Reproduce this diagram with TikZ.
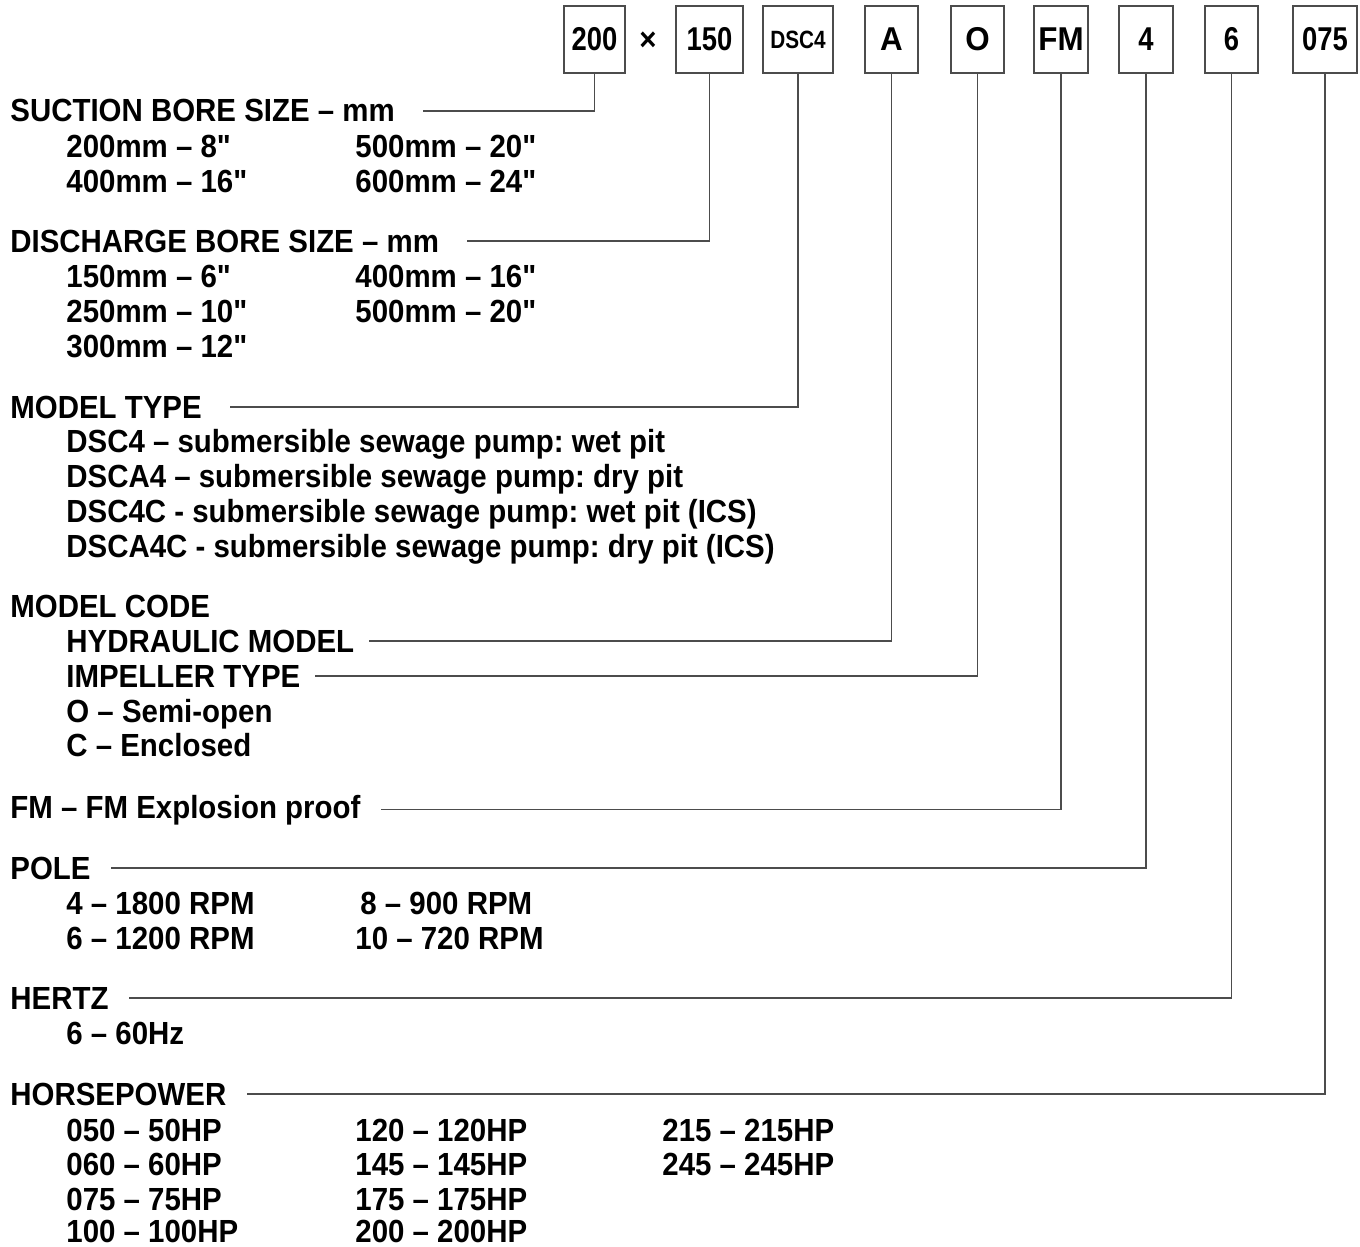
\documentclass[tikz,border=0pt]{standalone}
\usepackage{fontspec}
\newfontfamily\lblfont[FakeStretch=0.92]{Liberation Sans}
\newfontfamily\digfont[FakeStretch=0.83]{Liberation Sans}
\newfontfamily\letfont[FakeStretch=0.95]{Liberation Sans}
\frenchspacing
\begin{document}
\begin{tikzpicture}[x=0.5pt,y=-0.5pt,
  lbl/.style={anchor=base west, inner sep=0pt, font=\lblfont\bfseries\fontsize{16}{19}\selectfont},
  codebox/.style={draw=black!70, line width=0.7pt, minimum height=33.5pt, inner sep=0pt, anchor=center},
  digbox/.style={codebox, font=\digfont\bfseries\fontsize{16.5}{19}\selectfont},
  letbox/.style={codebox, font=\letfont\bfseries\fontsize{16.5}{19}\selectfont},
  smallbox/.style={codebox, font=\digfont\bfseries\fontsize{12.5}{14}\selectfont},
  conn/.style={draw=black!70, line width=0.7pt}]
\useasboundingbox (0,0) rectangle (1360,1247);
% code boxes
\node[digbox, minimum width=30.5pt] (b200) at (594.5,39.5) {200};
\node[font=\lblfont\bfseries\fontsize{16}{19}\selectfont, inner sep=0pt] (times) at (648,41) {×};
\node[digbox, minimum width=33.5pt] (b150) at (709.5,39.5) {150};
\node[smallbox, minimum width=35pt] (bdsc) at (798,39.5) {DSC4};
\node[letbox, minimum width=26.5pt] (bA) at (891.5,39.5) {A};
\node[letbox, minimum width=26.5pt] (bO) at (977.5,39.5) {O};
\node[letbox, minimum width=27pt] (bFM) at (1061,39.5) {FM};
\node[digbox, minimum width=27pt] (b4) at (1146,39.5) {4};
\node[digbox, minimum width=26.5pt] (b6) at (1231.5,39.5) {6};
\node[digbox, minimum width=32pt] (b075) at (1325,39.5) {075};
% suction
\node[lbl] (suction) at (10,122) {SUCTION BORE SIZE – mm};
\node[lbl] (s1) at (66,157) {200mm – 8"};
\node[lbl] (s2) at (355,157) {500mm – 20"};
\node[lbl] (s3) at (66,192) {400mm – 16"};
\node[lbl] (s4) at (355,192) {600mm – 24"};
% discharge
\node[lbl] (discharge) at (10,252) {DISCHARGE BORE SIZE – mm};
\node[lbl] (d1) at (66,287) {150mm – 6"};
\node[lbl] (d2) at (355,287) {400mm – 16"};
\node[lbl] (d3) at (66,322) {250mm – 10"};
\node[lbl] (d4) at (355,322) {500mm – 20"};
\node[lbl] (d5) at (66,357) {300mm – 12"};
% model type
\node[lbl] (mtype) at (10,418) {MODEL TYPE};
\node[lbl] (t1) at (66,452) {DSC4 – submersible sewage pump: wet pit};
\node[lbl] (t2) at (66,487) {DSCA4 – submersible sewage pump: dry pit};
\node[lbl] (t3) at (66,522) {DSC4C - submersible sewage pump: wet pit (ICS)};
\node[lbl] (t4) at (66,557) {DSCA4C - submersible sewage pump: dry pit (ICS)};
% model code
\node[lbl] (mcode) at (10,617) {MODEL CODE};
\node[lbl] (hyd) at (66,652) {HYDRAULIC MODEL};
\node[lbl] (imp) at (66,687) {IMPELLER TYPE};
\node[lbl] (c1) at (66,722) {O – Semi-open};
\node[lbl] (c2) at (66,756) {C – Enclosed};
% FM
\node[lbl] (fm) at (10,818) {FM – FM Explosion proof};
% pole
\node[lbl] (pole) at (10,879) {POLE};
\node[lbl] (p1) at (66,914) {4 – 1800 RPM};
\node[lbl] (p2) at (360,914) {8 – 900 RPM};
\node[lbl] (p3) at (66,949) {6 – 1200 RPM};
\node[lbl] (p4) at (355,949) {10 – 720 RPM};
% hertz
\node[lbl] (hertz) at (10,1009) {HERTZ};
\node[lbl] (h1) at (66,1044) {6 – 60Hz};
% horsepower
\node[lbl] (hp) at (10,1105) {HORSEPOWER};
\node[lbl] (hp1) at (66,1141) {050 – 50HP};
\node[lbl] (hp2) at (66,1175) {060 – 60HP};
\node[lbl] (hp3) at (66,1210) {075 – 75HP};
\node[lbl] (hp4) at (66,1242) {100 – 100HP};
\node[lbl] (hp5) at (355,1141) {120 – 120HP};
\node[lbl] (hp6) at (355,1175) {145 – 145HP};
\node[lbl] (hp7) at (355,1210) {175 – 175HP};
\node[lbl] (hp8) at (355,1242) {200 – 200HP};
\node[lbl] (hp9) at (662,1141) {215 – 215HP};
\node[lbl] (hp10) at (662,1175) {245 – 245HP};
% connectors
\draw[conn] (b200.south) |- ([xshift=14pt]suction.east);
\draw[conn] (b150.south) |- ([xshift=14pt]discharge.east);
\draw[conn] (bdsc.south) |- ([xshift=14pt]mtype.east);
\draw[conn] (bA.south) |- ([xshift=7pt]hyd.east);
\draw[conn] (bO.south) |- ([xshift=7pt]imp.east);
\draw[conn] (bFM.south) |- ([xshift=10pt]fm.east);
\draw[conn] (b4.south) |- ([xshift=10pt]pole.east);
\draw[conn] (b6.south) |- ([xshift=10pt]hertz.east);
\draw[conn] (b075.south) |- ([xshift=10pt]hp.east);
\end{tikzpicture}
\end{document}
